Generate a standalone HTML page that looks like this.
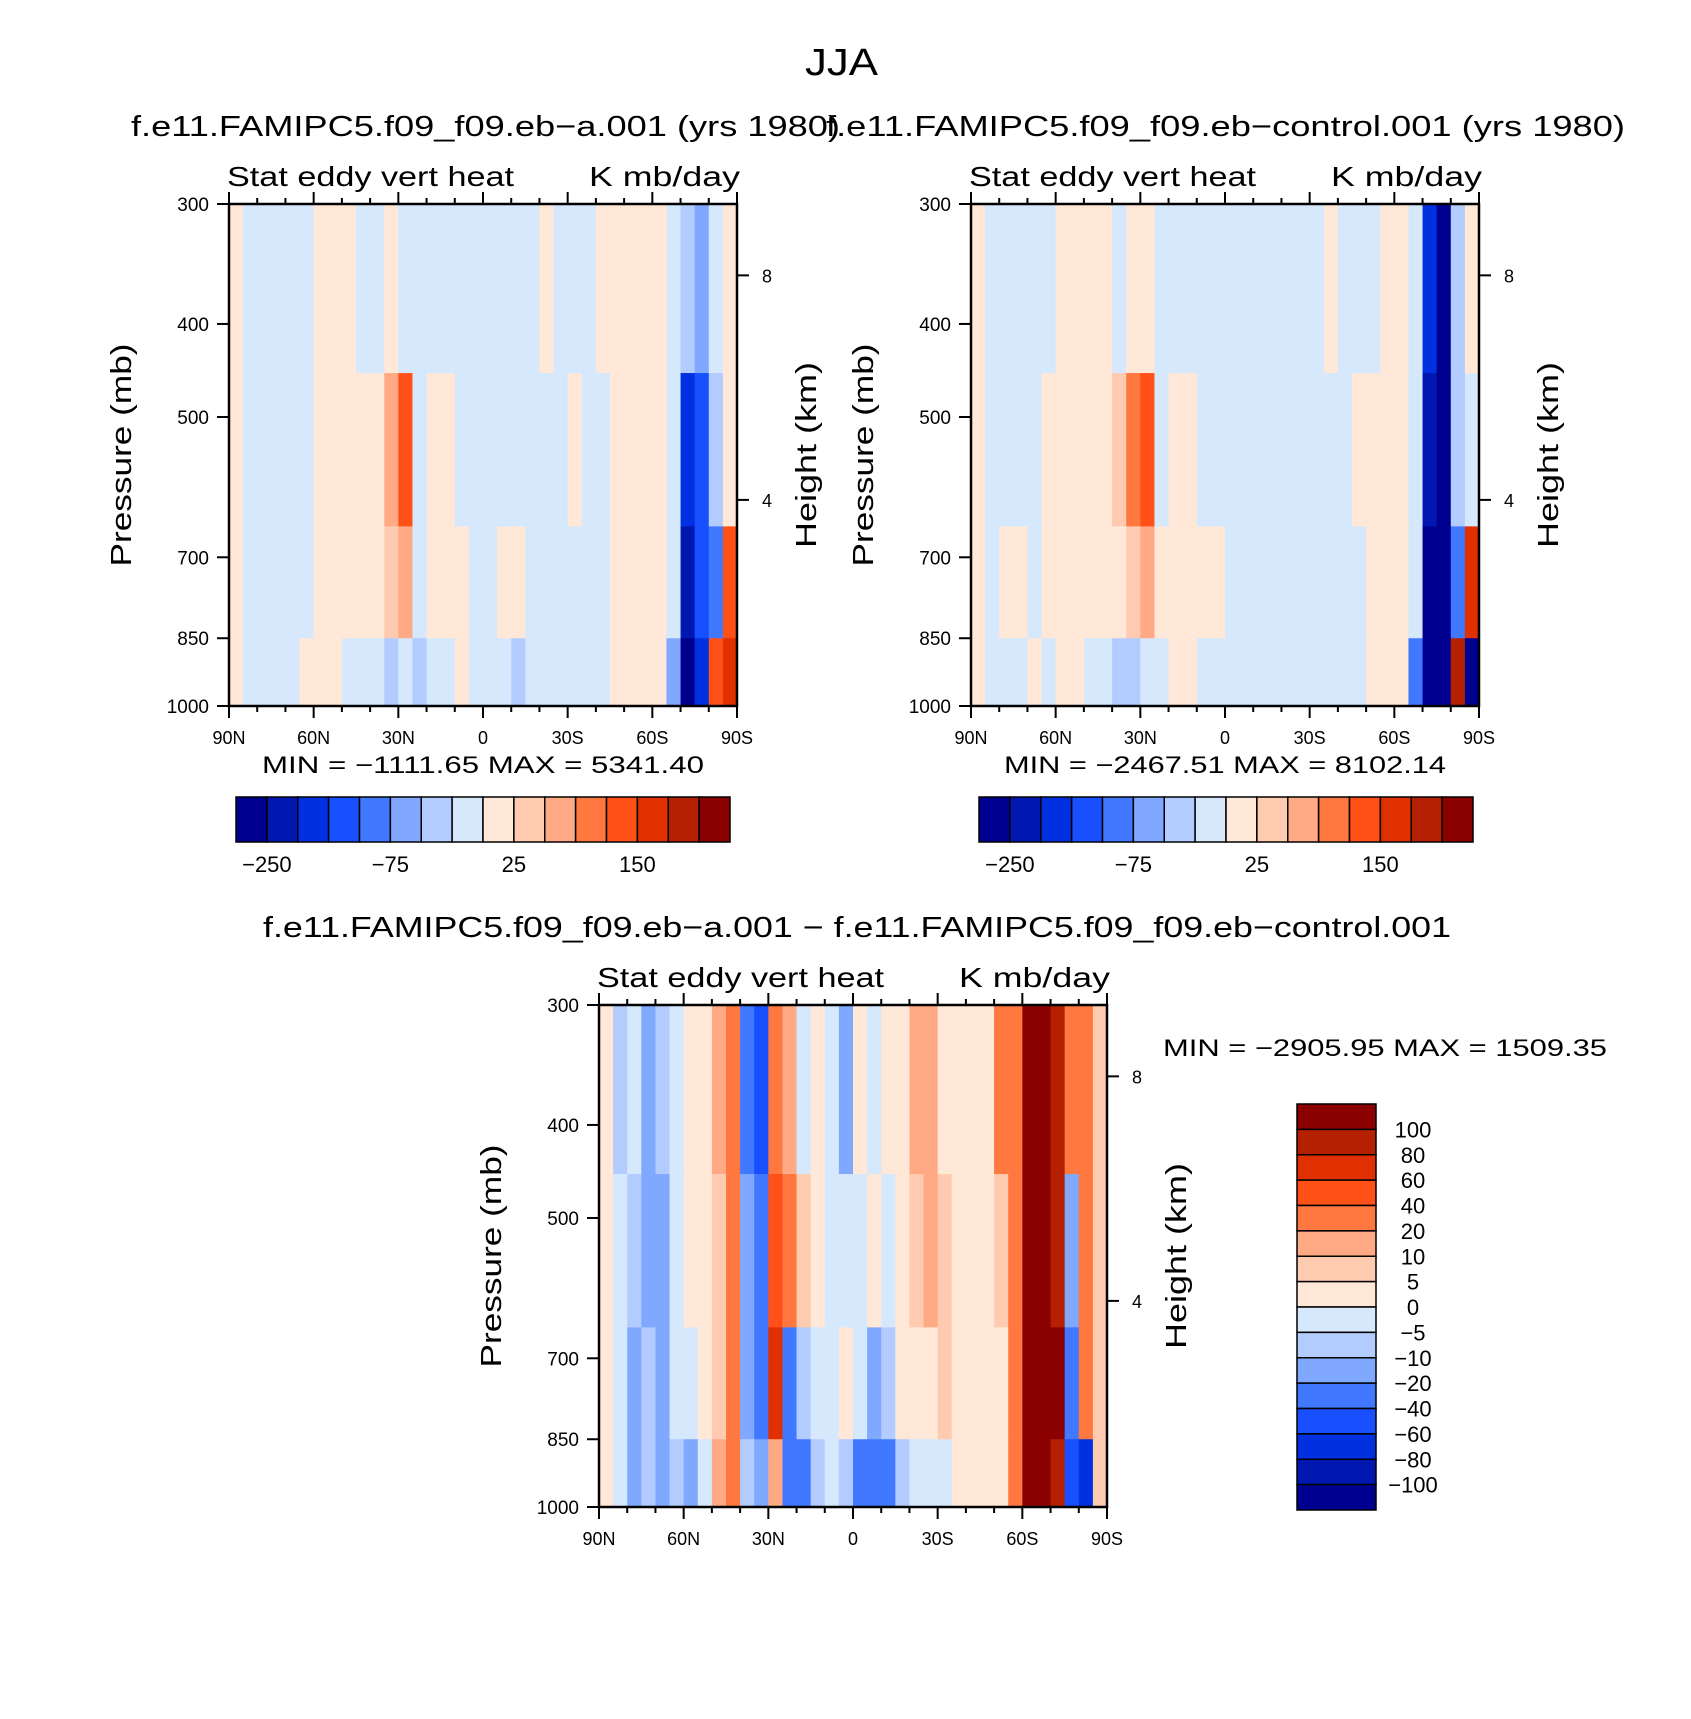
<!DOCTYPE html>
<html><head><meta charset="utf-8">
<style>
html,body{margin:0;padding:0;background:#fff;}
svg{display:block;font-family:"Liberation Sans","DejaVu Sans",sans-serif;}
</style></head>
<body>
<svg id="chart" width="1691" height="1719" viewBox="0 0 1691 1719" xmlns="http://www.w3.org/2000/svg">
<text x="805" y="75" font-size="38" textLength="73" lengthAdjust="spacingAndGlyphs">JJA</text>
</svg>
<script>
// ---- data ----
const latCenters = [87.5,82.5,77.5,72.5,67.5,62.5,57.5,52.5,47.5,42.5,37.5,32.5,27.5,22.5,17.5,12.5,7.5,2.5,-2.5,-7.5,-12.5,-17.5,-22.5,-27.5,-32.5,-37.5,-42.5,-47.5,-52.5,-57.5,-62.5,-67.5,-72.5,-77.5,-82.5,-87.5];
const rowBounds = [300,450,650,850,1000];
const levelsAbs = [-250,-200,-150,-100,-75,-50,-25,0,25,50,75,100,150,200,250];
const levelsDiff = [-100,-80,-60,-40,-20,-10,-5,0,5,10,20,40,60,80,100];
const absLabels = ["-250","-75","25","150"];
const diffLabels = ["-100","-80","-60","-40","-20","-10","-5","0","5","10","20","40","60","80","100"];
const palette = ["#000090","#0018b0","#0030e0","#1850ff","#4078ff","#80a8ff","#b3ccff","#d6e8fc","#ffe8d8","#ffcbb0","#ffaa85","#ff7840","#ff5018","#e03000","#b52000","#8b0000"];
const pTicks = [300,400,500,700,850,1000];
const hTicks = [8,4];
const hPress = [356,610];
const xTickLabels = ["90N","60N","30N","0","30S","60S","90S"];

const a_top = [5,-5,-5,-5,-5,-5,5,5,5,-5,-5,10,-5,-5,-5,-5,-5,-5,-5,-5,-5,-5,5,-5,-5,-5,5,5,5,5,5,-5,-30,-60,-20,5];
const a_mid = [5,-5,-5,-5,-5,-5,5,5,5,5,10,60,110,-5,5,5,-5,-5,-5,-5,-5,-5,-5,-5,5,-5,-5,5,5,5,5,-5,-200,-150,-40,5];
const a_low = [5,-5,-5,-5,-5,-5,5,5,5,5,5,30,60,-5,5,5,5,-5,-5,5,5,-5,-5,-5,-5,-5,-5,5,5,5,5,-5,-250,-150,-100,100];
const a_bot = [5,-5,-5,-5,-5,5,5,5,-5,-5,-20,-30,-20,-40,-10,-5,5,-5,-5,-10,-30,-5,-5,-5,-5,-5,-5,5,5,5,5,-60,-300,-200,120,160];

const c_top = [5,-5,-5,-5,-5,-5,5,5,5,5,-5,10,20,-5,-5,-5,-5,-10,-5,-5,-5,-5,-5,-5,-5,5,-5,-5,-5,5,5,-5,-200,-300,-40,5];
const c_mid = [5,-5,-5,-5,-5,5,5,5,5,5,30,80,110,-5,5,5,-5,-5,-5,-5,-5,-5,-5,-5,-5,-5,-5,5,5,5,5,-5,-250,-300,-50,-20];
const c_low = [5,-5,5,5,-5,5,5,5,5,5,10,40,60,5,5,5,5,5,-5,-5,-5,-5,-5,-5,-5,-5,-5,-5,5,5,5,-5,-300,-300,-100,150];
const c_bot = [5,-5,-5,-5,5,-5,5,5,-5,-10,-30,-40,-5,-5,5,5,-5,-5,-5,-5,-10,-5,-5,-5,-5,-5,-5,-5,5,5,5,-80,-300,-300,200,-300];

const d_top = [2,-7,-3,-15,-7,-3,2,2,15,25,-30,-50,30,15,-3,2,-3,-15,2,-3,2,2,15,10,2,2,2,2,20,30,120,150,80,30,20,5];
const d_mid = [2,-3,-7,-15,-15,-3,2,2,8,25,-20,-40,40,25,8,2,-3,-3,-3,2,-3,2,7,15,8,2,2,2,7,30,150,150,80,-20,20,5];
const d_low = [2,-3,-15,-7,-15,-3,-3,2,8,30,-15,-25,60,-30,-10,-3,-3,2,-3,-15,-7,2,2,2,7,2,2,2,2,20,150,150,100,-40,30,5];
const d_bot = [2,-3,-15,-7,-20,-7,-15,-3,15,20,-7,-20,15,-40,-25,-7,-3,-10,-30,-40,-25,-10,-3,-3,-3,2,2,2,2,20,150,150,80,-60,-80,5];

const svg = document.getElementById('chart');
const NS = 'http://www.w3.org/2000/svg';
function mk(tag, attrs, parent){ const e=document.createElementNS(NS,tag); for(const k in attrs) e.setAttribute(k,attrs[k]); (parent||svg).appendChild(e); return e; }
function txt(x,y,s,size,anchor,parent,len){ const a={x:x,y:y,'font-size':size,'text-anchor':anchor||'middle'}; if(len){a.textLength=len;a.lengthAdjust='spacingAndGlyphs';} const t=mk('text',a,parent); t.textContent=s; return t; }
function colorFor(v,levels){ let i=0; while(i<levels.length && v>=levels[i]) i++; return palette[i]; }

function panel(key, box, rows, levels){
  const [x0,y0,x1,y1]=box;
  const g=mk('g',{});
  
  
  const xs = lat => x0 + (90-lat)/180*(x1-x0);
  const ys = p => y0 + Math.log(p/300)/Math.log(1000/300)*(y1-y0);
  rows.forEach((row,r)=>{
    const ya=ys(rowBounds[r]), yb=ys(rowBounds[r+1]);
    row.forEach((v,c)=>{
      const xa=xs(latCenters[c]+2.5), xb=xs(latCenters[c]-2.5);
      const cell=mk('rect',{x:xa,y:ya,width:xb-xa+0.6,height:yb-ya+0.6,fill:colorFor(v,levels)},g);
      
      
    });
  });
  const frame=mk('rect',{x:x0,y:y0,width:x1-x0,height:y1-y0,fill:'none',stroke:'#000','stroke-width':2.5},g);
  
  
  for(let lat=90;lat>=-90;lat-=10){
    const x=xs(lat), major=(lat%30===0), L=major?12:6;
    mk('line',{x1:x,y1:y1,x2:x,y2:y1+L,stroke:'#000','stroke-width':2},g);
    mk('line',{x1:x,y1:y0,x2:x,y2:y0-L,stroke:'#000','stroke-width':2},g);
  }
  xTickLabels.forEach((s,i)=>{
    const t=txt(xs(90-30*i),y1+38,s,18,'middle',g);
    
    
  });
  pTicks.forEach(p=>{
    const y=ys(p);
    mk('line',{x1:x0-12,y1:y,x2:x0,y2:y,stroke:'#000','stroke-width':2},g);
    const t=txt(x0-20,y+7,String(p),19,'end',g);
    
    
  });
  hTicks.forEach((h,i)=>{
    const y=ys(hPress[i]);
    mk('line',{x1:x1,y1:y,x2:x1+12,y2:y,stroke:'#000','stroke-width':2},g);
    const t=txt(x1+30,y+7,String(h),18,'middle',g);
    
    
  });
  const yl=txt(0,0,'Pressure (mb)',29,'middle',g,223);
  yl.setAttribute('transform',`translate(${x0-98},${(y0+y1)/2}) rotate(-90)`);
  
  
  const hl=txt(0,0,'Height (km)',29,'middle',g,186);
  hl.setAttribute('transform',`translate(${x1+79},${(y0+y1)/2}) rotate(-90)`);
  
  
  const s1=txt(x0-2,y0-18,'Stat eddy vert heat',28,'start',g,287);
  
  
  const s2=txt(x1+3,y0-18,'K mb/day',28,'end',g,151);
  
  
}

function hbar(key,x0,y0,w,h){
  const g=mk('g',{});
  
  
  const bw=w/16;
  palette.forEach((c,i)=>{
    const r=mk('rect',{x:x0+i*bw,y:y0,width:bw,height:h,fill:c,stroke:'#000','stroke-width':1.5},g);
    
    
  });
  absLabels.forEach((s,i)=>{
    const t=txt(x0+(1+4*i)*bw,y0+h+30,s.replace('-','\u2212'),22,'middle',g);
    
    
  });
}

panel('model-a',[229,204,737,706],[a_top,a_mid,a_low,a_bot],levelsAbs);
panel('control',[971,204,1479,706],[c_top,c_mid,c_low,c_bot],levelsAbs);
panel('difference',[599,1005,1107,1507],[d_top,d_mid,d_low,d_bot],levelsDiff);
hbar('model-a',236,797,494,45);
hbar('control',979,797,494,45);

(function(){
  const g=mk('g',{});
  
  
  const x0=1297,y0=1104,w=79,H=406,bh=H/16;
  palette.slice().reverse().forEach((c,i)=>{
    const r=mk('rect',{x:x0,y:y0+i*bh,width:w,height:bh,fill:c,stroke:'#000','stroke-width':1.5},g);
    
    
  });
  diffLabels.slice().reverse().forEach((s,i)=>{
    const t=txt(1413,y0+(i+1)*bh+8,s.replace('-','\u2212'),22,'middle',g);
    
    
  });
})();

const titles=[
 [131,136,'f.e11.FAMIPC5.f09_f09.eb\u2212a.001 (yrs 1980)','start','model-a-title',709],
 [1625,136,'f.e11.FAMIPC5.f09_f09.eb\u2212control.001 (yrs 1980)','end','control-title',799],
 [263,937,'f.e11.FAMIPC5.f09_f09.eb\u2212a.001 \u2212 f.e11.FAMIPC5.f09_f09.eb\u2212control.001','start','difference-title',1188],
 [262,773,'MIN = \u22121111.65   MAX = 5341.40','start','model-a-minmax',442],
 [1004,773,'MIN = \u22122467.51   MAX = 8102.14','start','control-minmax',442],
 [1163,1056,'MIN = \u22122905.95   MAX = 1509.35','start','difference-minmax',444]
];
titles.forEach(([x,y,s,a,n,len])=>{
  const t=txt(x,y,s,n.indexOf('minmax')>=0?24:29,a,null,len);
  
  
});
</script>
</body></html>
